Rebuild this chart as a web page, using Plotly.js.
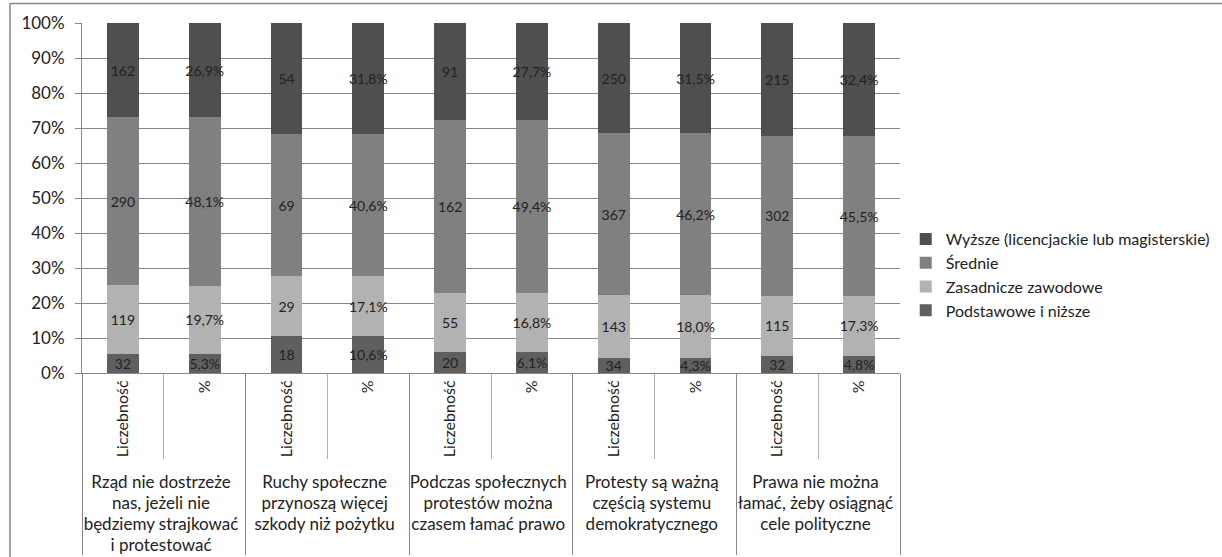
<!DOCTYPE html>
<html>
<head>
<meta charset="utf-8">
<script src="https://cdn.plot.ly/plotly-3.0.1.min.js"></script>
<style>
html,body{margin:0;padding:0;background:#fff;}
#chart{width:1222px;height:557px;}
</style>
</head>
<body>
<div id="chart"></div>
<script>
// Groups (statements) and sub-categories
const groups = [
  "Rząd nie dostrzeże<br>nas, jeżeli nie<br>będziemy strajkować<br>i protestować",
  "Ruchy społeczne<br>przynoszą więcej<br>szkody niż pożytku",
  "Podczas społecznych<br>protestów można<br>czasem łamać prawo",
  "Protesty są ważną<br>częścią systemu<br>demokratycznego",
  "Prawa nie można<br>łamać, żeby osiągnąć<br>cele polityczne"
];
const subs = ["Liczebność", "%"];

const seriesNames = [
  "Podstawowe i niższe",
  "Zasadnicze zawodowe",
  "Średnie",
  "Wyższe (licencjackie lub magisterskie)"
];
const seriesColors = ["#5f5f5f", "#b2b2b2", "#808080", "#4f4f4f"];

// Counts (Liczebność) per group
const podstawoweCount  = [32, 18, 20, 34, 32];
const zasadniczeCount  = [119, 29, 55, 143, 115];
const sredniaCount     = [290, 69, 162, 367, 302];
const wyzszeCount      = [162, 54, 91, 250, 215];

// Percent per group
const podstawowePct = [5.3, 10.6, 6.1, 4.3, 4.8];
const zasadniczePct = [19.7, 17.1, 16.8, 18.0, 17.3];
const sredniaPct    = [48.1, 40.6, 49.4, 46.2, 45.5];
const wyzszePct     = [26.9, 31.8, 27.7, 31.5, 32.4];

const countSeries = [podstawoweCount, zasadniczeCount, sredniaCount, wyzszeCount];
const pctSeries = [podstawowePct, zasadniczePct, sredniaPct, wyzszePct];

const xOuter = [], xInner = [];
groups.forEach(g => subs.forEach(s => {
  xOuter.push('<span style="font-size:17px">' + g.split("<br>").join('</span><br><span style="font-size:17px">') + '</span>');
  xInner.push(s);
}));

const FONT = "Lato, 'Open Sans', sans-serif";

const traces = seriesNames.map((name, si) => {
  const y = [], text = [];
  groups.forEach((g, gi) => {
    const c = countSeries[si][gi];
    const p = pctSeries[si][gi];
    const total = countSeries.reduce((a, s) => a + s[gi], 0);
    y.push(c / total * 100);
    text.push(String(c));
    const pt = pctSeries.reduce((a, s) => a + s[gi], 0);
    y.push(p / pt * 100);
    text.push(p.toFixed(1).replace(".", ",") + "%");
  });
  return {
    type: "bar",
    name: name,
    x: [xOuter, xInner],
    y: y,
    text: text,
    textposition: "inside",
    insidetextanchor: "middle",
    textangle: 0,
    constraintext: "none",
    textfont: {family: FONT, size: 14, color: "#222"},
    marker: {color: seriesColors[si], line: {width: 0}},
    hoverinfo: "skip",
    legendrank: 10 - si
  };
});

const layout = {
  width: 1222, height: 557,
  margin: {l: 82, r: 322, t: 23, b: 184, autoexpand: false},
  paper_bgcolor: "#fff", plot_bgcolor: "#fff",
  barmode: "stack",
  bargap: 0.61,
  font: {family: FONT, size: 14, color: "#222"},
  showlegend: true,
  legend: {
    x: 1.007, xanchor: "left", y: 0.28, yanchor: "middle",
    traceorder: "normal",
    font: {family: FONT, size: 16, color: "#222"},
    itemwidth: 30
  },
  xaxis: {
    type: "multicategory",
    showline: true, linecolor: "#868686", linewidth: 1,
    ticks: "outside", tickson: "boundaries", ticklen: 85, tickcolor: "#b0b0b0",
    tickangle: -90,
    showdividers: true, dividercolor: "#868686", dividerwidth: 1,
    tickfont: {family: FONT, size: 16, color: "#222"},
    showgrid: false
  },
  yaxis: {
    range: [0, 100], dtick: 10, ticksuffix: "%",
    showline: true, linecolor: "#868686", linewidth: 1,
    ticks: "outside", ticklen: 6, tickcolor: "#868686",
    ticklabelstandoff: 7,
    gridcolor: "#868686", gridwidth: 1,
    zeroline: false,
    tickfont: {family: FONT, size: 17, color: "#222"}
  },
  shapes: [
    {type: "line", xref: "paper", yref: "paper", x0: -0.088, x1: 1.4, y0: 1.056, y1: 1.056, line: {color: "#868686", width: 1.5}},
    {type: "line", xref: "paper", yref: "paper", x0: -0.088, x1: -0.088, y0: 1.056, y1: -0.55, line: {color: "#868686", width: 1.5}}
  ]
};

Plotly.newPlot("chart", traces, layout, {displayModeBar: false, staticPlot: true});
</script>
</body>
</html>
